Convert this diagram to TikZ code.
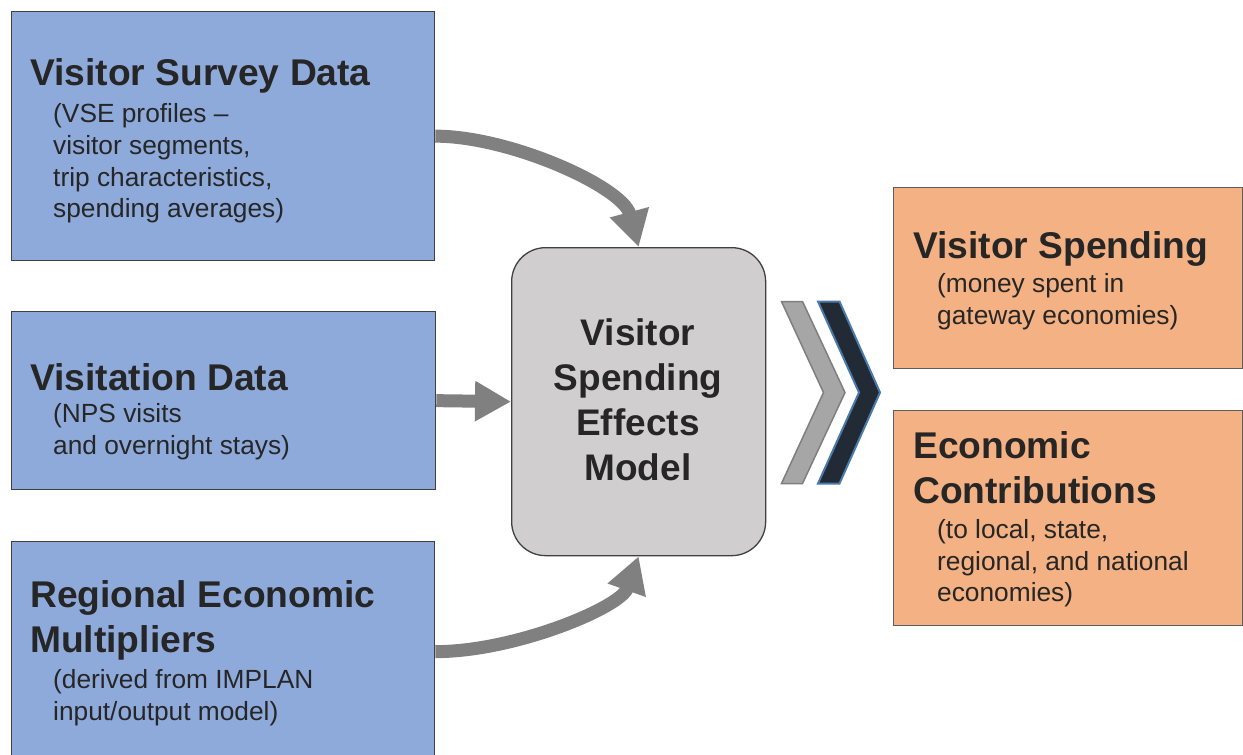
\documentclass[tikz,border=0pt]{standalone}
\usepackage{fontspec}
\setmainfont{Liberation Sans}
\usetikzlibrary{arrows.meta}
\definecolor{blueF}{HTML}{8EAADB}
\definecolor{orangeF}{HTML}{F4B183}
\definecolor{grayF}{HTML}{D0CECE}
\definecolor{edgeC}{HTML}{404040}
\definecolor{txtC}{HTML}{262626}
\definecolor{arrC}{HTML}{808080}
\definecolor{chevG}{HTML}{A6A6A6}
\definecolor{chevGE}{HTML}{7F7F7F}
\definecolor{chevD}{HTML}{222A35}
\definecolor{chevDE}{HTML}{4A7AAA}
\tikzset{
  box/.style={draw=edgeC, line width=1.3pt, inner sep=0pt, anchor=north west},
  ttl/.style={anchor=base west, inner sep=0pt, text=txtC, font=\fontsize{37.2}{45}\selectfont\bfseries},
  sub/.style={anchor=base west, inner sep=0pt, text=txtC, font=\fontsize{26.3}{32}\selectfont},
  ctr/.style={anchor=base, inner sep=0pt, text=txtC, font=\fontsize{37}{45}\selectfont\bfseries},
  arr/.style={draw=arrC, line width=13pt, -{Triangle[width=38pt,length=36pt]}}
}
\begin{document}
\begin{tikzpicture}[x=1pt,y=-1pt]
\clip (0,0) rectangle (1243,755);
\fill[white] (0,0) rectangle (1243,755);

% boxes
\node[box, fill=blueF, minimum width=423pt, minimum height=249pt] (vsd) at (11,11) {};
\node[box, fill=blueF, minimum width=424pt, minimum height=178pt] (vd) at (11,311) {};
\node[box, fill=blueF, minimum width=423pt, minimum height=220pt] (rem) at (11,541) {};
\node[box, fill=grayF, rounded corners=34pt, minimum width=254pt, minimum height=308pt] (vse) at (511,247) {};
\node[box, fill=orangeF, draw=edgeC!85, minimum width=349pt, minimum height=181pt] (vsp) at (893,187) {};
\node[box, fill=orangeF, draw=edgeC!85, minimum width=349pt, minimum height=215pt] (ec) at (893,410) {};

% texts: Visitor Survey Data
\node[ttl] (vsdT) at (30,85) {Visitor Survey Data};
\node[sub] (vsd1) at (53,122) {(VSE profiles –};
\node[sub] (vsd2) at (53,154) {visitor segments,};
\node[sub] (vsd3) at (53,186) {trip characteristics,};
\node[sub] (vsd4) at (53,217) {spending averages)};

% Visitation Data
\node[ttl] (vdT) at (30,390) {Visitation Data};
\node[sub] (vd1) at (53,422) {(NPS visits};
\node[sub] (vd2) at (53,454) {and overnight stays)};

% Regional Economic Multipliers
\node[ttl] (remT1) at (30,607) {Regional Economic};
\node[ttl] (remT2) at (30,652) {Multipliers};
\node[sub] (rem1) at (53,688) {(derived from IMPLAN};
\node[sub] (rem2) at (53,720) {input/output model)};

% centre
\node[ctr] (vseT1) at (638,345) {Visitor};
\node[ctr] (vseT2) at (638,390) {Spending};
\node[ctr] (vseT3) at (638,435) {Effects};
\node[ctr] (vseT4) at (638,480) {Model};

% Visitor Spending
\node[ttl] (vspT) at (913,258) {Visitor Spending};
\node[sub] (vsp1) at (937,292) {(money spent in};
\node[sub] (vsp2) at (937,324) {gateway economies)};

% Economic Contributions
\node[ttl] (ecT1) at (913,458) {Economic};
\node[ttl] (ecT2) at (913,503) {Contributions};
\node[sub] (ec1) at (937,538) {(to local, state,};
\node[sub] (ec2) at (937,570) {regional, and national};
\node[sub] (ec3) at (937,601) {economies)};

% arrows
\draw[arr] (vsd.east) .. controls +(75,0) and +(-16,-60) .. (vse.north);
\draw[arr] (vd.east) -- (vse.west);
\draw[arr] (rem.east) .. controls +(80,0) and +(-18,51) .. (vse.south);

% chevrons
\filldraw[fill=chevG, draw=chevGE, line width=1.5pt, line join=miter]
  (781.5,301.5) -- (802.5,301.5) -- (845,392.5) -- (802.5,483.5) -- (781.5,483.5) -- (823.5,392.5) -- cycle;
\filldraw[fill=chevD, draw=chevDE, line width=2pt, line join=miter]
  (818,301.5) -- (839.5,301.5) -- (880,392.5) -- (839.5,483.5) -- (818,483.5) -- (859,392.5) -- cycle;
\end{tikzpicture}
\end{document}
